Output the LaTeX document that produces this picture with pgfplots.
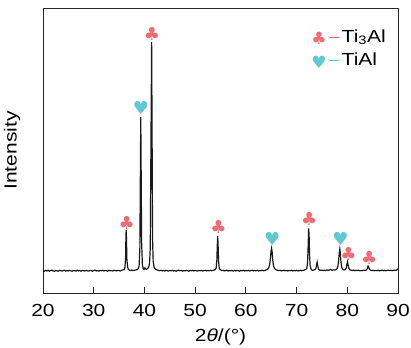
\documentclass[border=0pt]{standalone}
\usepackage{fontspec}
\setmainfont{Liberation Sans}[FakeStretch=1.2]
\newfontfamily\symf{DejaVu Sans}
\usepackage{pgfplots}
\usepackage{pgfplotstable}
\pgfplotsset{compat=1.18}
\definecolor{clubc}{RGB}{238,108,118}
\definecolor{heartc}{RGB}{95,200,210}

\pgfplotstableread{
x y
20.0 22.5
20.25 21.9
20.5 22.6
20.75 22.0
21.0 22.8
21.25 21.8
21.5 22.4
21.75 22.9
22.0 22.1
22.25 21.7
22.5 22.6
22.75 22.2
23.0 21.8
23.25 22.7
23.5 22.3
23.75 21.9
24.0 22.5
24.25 22.8
24.5 21.9
24.75 22.4
25.0 22.0
25.25 22.7
25.5 22.2
25.75 21.8
26.0 22.6
26.25 22.3
26.5 21.9
26.75 22.8
27.0 22.1
27.25 22.5
27.5 21.8
27.75 22.6
28.0 22.3
28.25 22.0
28.5 22.7
28.75 22.2
29.0 21.9
29.25 22.6
29.5 22.4
29.75 21.8
30.0 22.5
30.25 22.9
30.5 22.1
30.75 22.4
31.0 21.9
31.25 22.6
31.5 22.2
31.75 22.8
32.0 22.0
32.25 22.5
32.5 22.3
32.75 21.8
33.0 22.7
33.25 22.2
33.5 22.5
33.75 22.0
34.0 22.8
34.25 22.3
34.5 22.1
34.75 22.7
35.0 22.4
35.25 22.0
35.5 22.8
35.75 23.0
36.0 23.6
36.15 25.5
36.28 35
36.35 55
36.40 63
36.46 54
36.54 34
36.68 25.5
36.85 23.6
37.0 23.0
37.25 22.5
37.5 22.9
37.75 22.4
38.0 22.7
38.25 23.0
38.5 23.3
38.75 24
38.95 27
39.1 45
39.2 120
39.28 176
39.35 125
39.45 50
39.6 28
39.75 24.5
39.9 23.5
40.0 24.8
40.1 25.2
40.2 24.0
40.4 23.8
40.6 24.3
40.8 25.5
41.0 29
41.15 45
41.3 160
41.42 251
41.5 170
41.6 55
41.72 32
41.9 26
42.1 24.2
42.3 23.5
42.55 23.0
42.75 22.6
43.0 22.3
43.25 22.8
43.5 22.1
43.75 22.5
44.0 22.0
44.25 22.7
44.5 22.3
44.75 21.9
45.0 22.6
45.25 22.2
45.5 22.8
45.75 22.0
46.0 22.4
46.25 21.8
46.5 22.5
46.75 22.9
47.0 22.2
47.25 22.6
47.5 21.9
47.75 22.4
48.0 22.1
48.25 22.7
48.5 22.3
48.75 21.8
49.0 22.6
49.25 22.2
49.5 22.8
49.75 22.0
50.0 22.5
50.25 22.3
50.5 21.9
50.75 22.6
51.0 22.2
51.25 22.7
51.5 22.0
51.75 22.4
52.0 22.8
52.25 22.1
52.5 22.5
52.75 22.2
53.0 22.7
53.25 22.3
53.5 22.6
53.75 23.0
54.0 23.5
54.15 25
54.28 33
54.37 48
54.45 57
54.53 47
54.62 32
54.75 25
54.9 23.5
55.1 22.9
55.3 22.4
55.5 22.7
55.75 22.1
56.0 22.5
56.25 22.8
56.5 22.0
56.75 22.4
57.0 22.2
57.25 22.7
57.5 21.9
57.75 22.5
58.0 22.1
58.25 22.6
58.5 22.3
58.75 21.8
59.0 22.6
59.25 22.2
59.5 22.8
59.75 22.0
60.0 22.5
60.25 22.2
60.5 22.7
60.75 22.0
61.0 22.4
61.25 22.8
61.5 22.1
61.75 22.5
62.0 22.2
62.25 22.7
62.5 22.0
62.75 22.5
63.0 22.3
63.25 22.8
63.5 22.2
63.75 22.6
64.0 23.0
64.25 23.6
64.5 25
64.7 28.5
64.85 35
64.97 42
65.07 44.7
65.18 41
65.3 33
65.45 27
65.65 24.5
65.9 23.4
66.2 22.8
66.5 22.4
66.75 22.7
67.0 22.1
67.25 22.5
67.5 22.8
67.75 22.2
68.0 22.6
68.25 22.0
68.5 22.5
68.75 22.3
69.0 22.8
69.25 22.1
69.5 22.6
69.75 22.2
70.0 22.7
70.25 22.0
70.5 22.4
70.75 22.8
71.0 22.3
71.25 22.6
71.5 22.9
71.75 23.4
72.0 24.5
72.15 29
72.27 45
72.38 64.7
72.47 58
72.56 38
72.68 27
72.85 24
73.0 23.0
73.2 22.7
73.4 23.0
73.6 23.3
73.8 24.5
73.95 28.5
74.05 31
74.15 28
74.3 24.3
74.5 23.0
74.75 22.6
75.0 22.9
75.25 22.4
75.5 22.8
75.75 22.5
76.0 23.0
76.25 22.6
76.5 23.1
76.7 23.6
76.9 23.0
77.1 22.8
77.35 23.1
77.6 23.0
77.8 23.5
78.0 24.5
78.15 27
78.3 33
78.42 40
78.53 44
78.63 40
78.75 31
78.9 26
79.05 24.0
79.2 23.2
79.4 23.0
79.6 23.4
79.8 25
79.93 29
80.05 31.3
80.17 28
80.32 24.5
80.5 23.2
80.75 22.8
81.0 22.5
81.25 22.9
81.5 22.3
81.75 22.7
82.0 22.4
82.25 22.8
82.5 22.2
82.75 22.6
83.0 22.3
83.25 22.8
83.5 22.5
83.75 23.0
83.95 24.5
84.1 27
84.22 26
84.38 23.6
84.6 22.8
84.85 22.4
85.1 22.8
85.35 22.2
85.6 22.6
85.85 22.3
86.1 22.8
86.35 22.1
86.6 22.5
86.85 22.9
87.1 22.3
87.35 22.7
87.6 22.2
87.85 22.6
88.1 22.9
88.35 22.4
88.6 22.8
88.85 22.3
89.1 22.7
89.35 22.9
89.6 22.5
89.85 23.4
90.0 24.2
}\xrd

\pgfplotstableread{
x y
36.5 70.3
41.5 259.5
54.6 65.7
72.5 74
80.25 39.2
84.3 34.7
}\clubs

\pgfplotstableread{
x y
39.3 184.7
65.2 54
78.65 54
}\hearts

\begin{document}
\begin{tikzpicture}
\useasboundingbox (-43pt,-54pt) rectangle (368pt,293pt);
\begin{axis}[
  scale only axis,
  width=355pt, height=285pt,
  xmin=20, xmax=90, ymin=0, ymax=285,
  xtick={20,30,...,90},
  ytick=\empty,
  xtick pos=left,
  tick align=inside,
  major tick length=6pt,
  axis line style={black!85, line width=0.8pt},
  every tick/.style={black!85, line width=0.8pt},
  font=\fontsize{17.5}{21}\selectfont,
  /pgf/number format/assume math mode=true,
  xticklabel style={anchor=base, yshift=-23.7pt},
  xlabel={2\textit{θ}/(°)},
  ylabel={Intensity},
  xlabel style={at={(axis description cs:0.5,-0.153)}, anchor=center},
  ylabel style={at={(axis description cs:-0.087,0.5)}, anchor=center},
  clip=false,
  legend style={at={(axis cs:72.9,265.7)}, anchor=north west, draw=none, fill=none,
    inner sep=0pt, row sep=5pt, font=\fontsize{17.5}{21}\selectfont},
  legend cell align=left,
]
\addplot[black!90, line width=1.2pt, forget plot] table[x=x, y=y] {\xrd};
\addlegendimage{legend image code/.code={
  \node[text=clubc, font=\symf\fontsize{17}{17}\selectfont, inner sep=0pt, anchor=west] at (0pt,-2.5pt) {♣};}}
\addlegendentry{\textcolor{clubc}{\rule[4.6pt]{10pt}{0.8pt}}\hspace{3pt}Ti\textsubscript{3}Al}
\addlegendimage{legend image code/.code={
  \node[text=heartc, font=\symf\fontsize{17}{17}\selectfont, inner sep=0pt, anchor=west] at (0pt,-2.5pt) {♥};}}
\addlegendentry{\textcolor{heartc}{\rule[4.6pt]{10pt}{0.8pt}}\hspace{3pt}TiAl}
\addplot[only marks, mark=text, text mark={♣}, color=clubc, text mark as node=true,
  text mark style={font=\symf\fontsize{18}{18}\selectfont, inner sep=0pt}, forget plot] table[x=x, y=y] {\clubs};
\addplot[only marks, mark=text, text mark={♥}, color=heartc, text mark as node=true,
  text mark style={font=\symf\fontsize{18}{18}\selectfont, inner sep=0pt}, forget plot] table[x=x, y=y] {\hearts};
\end{axis}
\end{tikzpicture}
\end{document}
